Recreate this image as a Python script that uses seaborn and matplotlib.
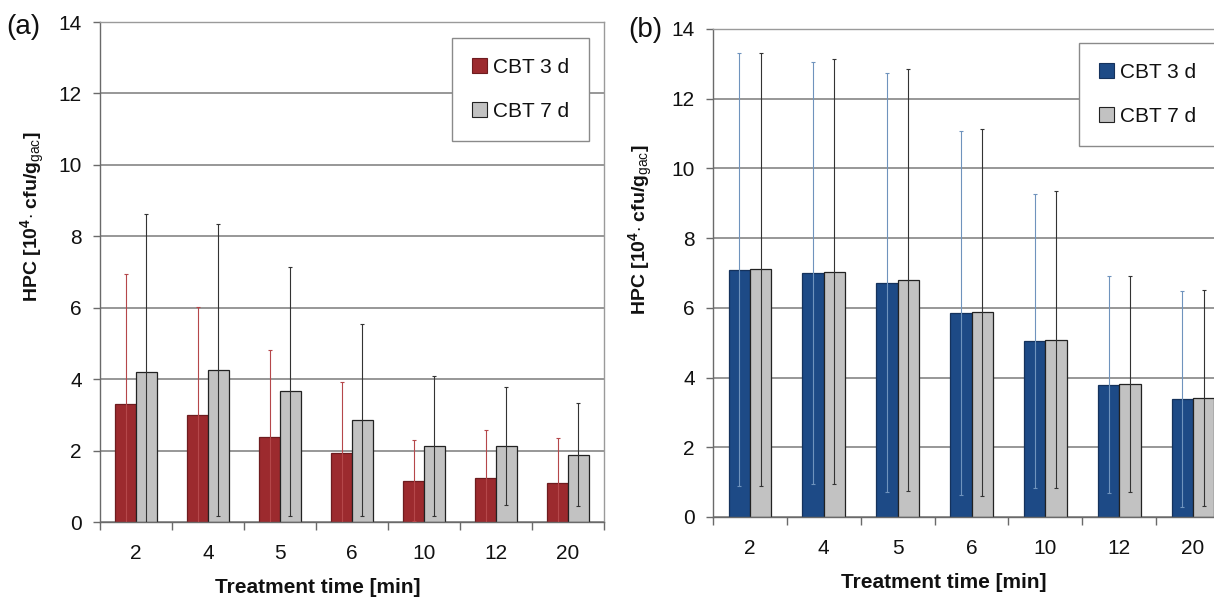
import numpy as np
import pandas as pd
import matplotlib
matplotlib.use("Agg")
import matplotlib.pyplot as plt
import seaborn as sns
from matplotlib.patches import Patch
from matplotlib.ticker import FixedLocator

sns.set_theme(style="white")
plt.rcParams['font.family'] = ['Liberation Sans', 'DejaVu Sans']
plt.rcParams['mathtext.fontset'] = 'custom'
plt.rcParams['mathtext.rm'] = 'Liberation Sans'
plt.rcParams['mathtext.bf'] = 'Liberation Sans:bold'
plt.rcParams['mathtext.it'] = 'Liberation Sans:italic'

# %% data
times = ["2", "4", "5", "6", "10", "12", "20"]
series = ["CBT 3 d", "CBT 7 d"]

# panel (a)
a_3d = [3.31, 3.00, 2.37, 1.93, 1.16, 1.23, 1.09]
a_3d_sd = [3.64, 3.02, 2.44, 1.98, 1.14, 1.35, 1.26]
a_7d = [4.20, 4.26, 3.66, 2.86, 2.14, 2.13, 1.89]
a_7d_sd = [4.43, 4.09, 3.48, 2.68, 1.96, 1.66, 1.44]

# panel (b)
b_3d = [7.09, 6.99, 6.72, 5.85, 5.05, 3.79, 3.38]
b_3d_sd = [6.21, 6.05, 6.01, 5.23, 4.22, 3.11, 3.10]
b_7d = [7.11, 7.04, 6.80, 5.87, 5.09, 3.82, 3.41]
b_7d_sd = [6.21, 6.10, 6.05, 5.26, 4.25, 3.09, 3.10]

yticks = [0, 2, 4, 6, 8, 10, 12, 14]


def long_df(v3, v7):
    return pd.DataFrame({
        "time": times * 2,
        "series": [series[0]] * len(times) + [series[1]] * len(times),
        "hpc": list(v3) + list(v7),
    })


def draw_panel(ax, v3, s3, v7, s7, col3, edge3, err3, legend_anchor,
               ylab_xy, xlab_xy):
    df = long_df(v3, v7)
    sns.barplot(data=df, x="time", y="hpc", hue="series", order=times,
                hue_order=series, palette=[col3, "#C2C2C2"], width=0.58,
                errorbar=None, saturation=1, ax=ax, legend=False, zorder=2)
    edge = [edge3, "#222222"]
    for cont, ec in zip(ax.containers, edge):
        for p in cont:
            p.set_edgecolor(ec)
            p.set_linewidth(0.9)
    # error bars (symmetric SD)
    for cont, vals, sds, ecol in zip(ax.containers, [v3, v7], [s3, s7], [err3, "#333333"]):
        xs = [p.get_x() + p.get_width() / 2 for p in cont]
        ax.errorbar(xs, vals, yerr=sds, fmt="none", ecolor=ecol, elinewidth=0.8,
                    capsize=1.5, capthick=0.8, zorder=3)

    ax.set_ylim(0, 14)
    ax.set_xlim(-0.5, len(times) - 0.5)
    ax.yaxis.set_major_locator(FixedLocator(yticks))
    ax.grid(axis="y", color="#7a7a7a", linewidth=1.1, zorder=0)
    ax.set_axisbelow(True)
    for s in ["top", "right"]:
        ax.spines[s].set_color("#9a9a9a")
        ax.spines[s].set_linewidth(1.0)
    for s in ["left", "bottom"]:
        ax.spines[s].set_color("#6a6a6a")
        ax.spines[s].set_linewidth(1.0)

    ax.tick_params(axis="y", which="major", length=5, width=1, color="#6a6a6a",
                   direction="out", labelsize=15, pad=8, labelcolor="#111111", left=True)
    ax.tick_params(axis="x", which="major", length=0, labelsize=15, pad=16, labelcolor="#111111")
    ax.xaxis.set_minor_locator(FixedLocator(np.arange(-0.5, len(times), 1.0)))
    ax.tick_params(axis="x", which="minor", length=6, width=1, color="#6a6a6a",
                   direction="out", bottom=True)

    ax.set_xlabel("Treatment time [min]", fontsize=15, fontweight="bold", color="#111111")
    ax.xaxis.set_label_coords(*xlab_xy)
    ax.set_ylabel(r"HPC [10$^{\mathbf{4}}$$\cdot$ cfu/g$_{\mathrm{gac}}$]", fontsize=14,
                  fontweight="bold", color="#111111")
    ax.yaxis.set_label_coords(*ylab_xy)

    handles = [Patch(facecolor=col3, edgecolor=edge3, linewidth=0.8),
               Patch(facecolor="#C2C2C2", edgecolor="#222222", linewidth=0.8)]
    leg = ax.legend(handles, series, loc="upper right", bbox_to_anchor=legend_anchor,
                    fontsize=15, frameon=True, fancybox=False, framealpha=1,
                    edgecolor="#8a8a8a", handlelength=0.7, handleheight=0.75,
                    handletextpad=0.3, labelspacing=1.2, borderpad=0.95,
                    borderaxespad=0)
    leg.get_frame().set_linewidth(1.0)
    for t in leg.get_texts():
        t.set_color("#111111")


fig = plt.figure(figsize=(12.14, 5.97), dpi=100)
ax_a = fig.add_axes([100 / 1214, 1 - 522 / 597, 504 / 1214, 500 / 597])
ax_b = fig.add_axes([713 / 1214, 1 - 517 / 597, 517 / 1214, 488 / 597])

draw_panel(ax_a, a_3d, a_3d_sd, a_7d, a_7d_sd, "#9C2A2E", "#6e1c1f", "#b5474a",
           (0.97, 0.968), (-0.105, 0.61), (0.432, -0.112))
draw_panel(ax_b, b_3d, b_3d_sd, b_7d, b_7d_sd, "#1D4A86", "#15325c", "#6f93bd",
           (0.973, 0.971), (-0.112, 0.588), (0.447, -0.115))

fig.text(6 / 1214, 1 - 27 / 597, "(a)", fontsize=20, va="center", ha="left", color="#111111")
fig.text(628 / 1214, 1 - 30 / 597, "(b)", fontsize=20, va="center", ha="left", color="#111111")

fig.savefig("out.png", dpi=100)
